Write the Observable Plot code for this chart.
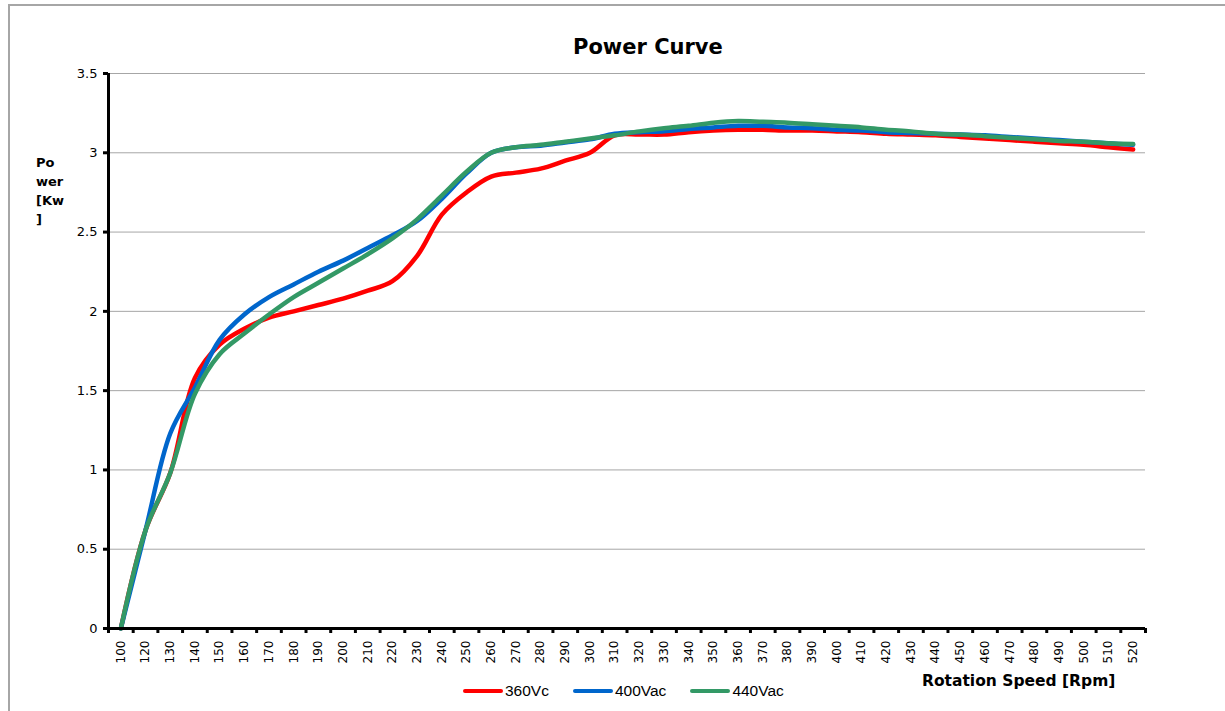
<!DOCTYPE html>
<html>
<head>
<meta charset="utf-8">
<script src="https://cdn.jsdelivr.net/npm/d3@7"></script>
<script src="https://cdn.jsdelivr.net/npm/@observablehq/plot@0.6"></script>
<style>
  html, body { margin: 0; padding: 0; background: #fff; }
  #wrap { position: relative; width: 1225px; height: 711px; overflow: hidden; font-family: "DejaVu Sans", sans-serif; color: #000; }
  #border { position: absolute; left: 8px; top: 4px; width: 1400px; height: 900px; border-left: 2px solid #a6a6a6; border-top: 2px solid #a6a6a6; box-sizing: border-box; }
  #chart { position: absolute; left: 0; top: 0; }
  .abs { position: absolute; white-space: nowrap; line-height: 1; }
  #title { left: 573px; top: 37px; font-size: 21px; font-weight: bold; }
  #ytitle { left: 36px; top: 153px; font-size: 13px; font-weight: bold; line-height: 19px; white-space: normal; }
  #xtitle { left: 922px; top: 674px; font-size: 15.5px; font-weight: bold; }
  #legend { left: 463px; top: 683px; display: flex; align-items: center; font-family: "Liberation Sans", Arial, sans-serif; font-size: 15.5px; }
  .item { display: flex; align-items: center; margin-right: 24px; }
  .sw { width: 40px; height: 4px; border-radius: 2px; margin-right: 2px; }
</style>
</head>
<body>
<div id="wrap">
  <div id="border"></div>
  <div id="chart"></div>
  <div id="title" class="abs">Power Curve</div>
  <div id="ytitle" class="abs">Po<br>wer<br>[Kw<br>]</div>
  <div id="xtitle" class="abs">Rotation Speed [Rpm]</div>
  <div id="legend" class="abs"></div>
</div>
<script>
// Categories (rotation speed, rpm) — note: 110 is not present in the source chart
const rpm = [100,120,130,140,150,160,170,180,190,200,210,220,230,240,250,260,270,280,290,300,
             310,320,330,340,350,360,370,380,390,400,410,420,430,440,450,460,470,480,490,500,510,520];

// Power [kW] per series
const p360 = [0,0.62,0.98,1.58,1.79,1.89,1.96,2.00,2.04,2.08,2.13,2.19,2.35,2.61,2.75,2.85,2.875,2.90,2.95,3.00,
              3.11,3.115,3.115,3.13,3.14,3.145,3.145,3.14,3.14,3.135,3.13,3.12,3.115,3.11,3.10,3.09,3.08,3.07,3.06,3.05,3.035,3.02];
const p400 = [0,0.62,1.23,1.52,1.82,1.98,2.09,2.17,2.25,2.32,2.40,2.48,2.57,2.71,2.87,3.00,3.035,3.045,3.065,3.085,
              3.12,3.13,3.135,3.15,3.16,3.17,3.17,3.16,3.155,3.145,3.14,3.13,3.125,3.12,3.115,3.11,3.10,3.09,3.08,3.07,3.06,3.05];
const p440 = [0,0.62,0.98,1.48,1.73,1.86,1.98,2.09,2.18,2.27,2.36,2.46,2.58,2.73,2.88,3.00,3.035,3.05,3.07,3.09,
              3.11,3.135,3.155,3.17,3.19,3.20,3.195,3.19,3.18,3.17,3.16,3.145,3.135,3.12,3.115,3.105,3.095,3.085,3.075,3.07,3.06,3.055];

const seriesNames = ["360Vc", "400Vac", "440Vac"];
const seriesColors = ["#ff0000", "#0066cc", "#339966"];
const yTicks = [0, 0.5, 1, 1.5, 2, 2.5, 3, 3.5];

const seriesValues = [p360, p400, p440];
const rows = seriesNames.flatMap((s, k) => rpm.map((r, i) => ({rpm: r, power: seriesValues[k][i], series: s})));

const W = 1225, H = 711, mL = 108, mR = 80, mT = 73, mB = 83;
const half = (W - mL - mR) / rpm.length / 2;

const chart = Plot.plot({
  width: W, height: H,
  marginLeft: mL, marginRight: mR, marginTop: mT, marginBottom: mB,
  style: {background: "transparent", fontFamily: "DejaVu Sans, sans-serif", fontSize: "12px", color: "#000", overflow: "visible"},
  x: {type: "point", domain: rpm, padding: 0.5, round: false, label: null},
  y: {domain: [0, 3.5], label: null},
  color: {domain: seriesNames, range: seriesColors},
  marks: [
    Plot.gridY(yTicks, {stroke: "#a6a6a6", strokeOpacity: 1, strokeWidth: 1}),
    Plot.line(rows, {x: "rpm", y: "power", z: "series", stroke: "series", strokeWidth: 4.5, curve: "catmull-rom", strokeLinecap: "round"}),
    Plot.ruleY([0], {stroke: "#000", strokeWidth: 3}),
    Plot.ruleX([rpm[0]], {dx: -half, y1: 0, y2: 3.5, stroke: "#000", strokeWidth: 3}),
    Plot.axisY({ticks: yTicks, tickSize: 5, tickPadding: 6, strokeWidth: 3, fontSize: 13, tickFormat: d => String(d), label: null}),
    Plot.axisX({ticks: rpm, tickSize: 5, dx: -half, strokeWidth: 3, tickFormat: () => "", label: null}),
    Plot.axisX({ticks: [rpm[rpm.length - 1]], tickSize: 5, dx: half, strokeWidth: 3, tickFormat: () => "", label: null}),
    Plot.axisX({ticks: rpm, tickSize: 0, tickRotate: -90, tickPadding: 12, fontSize: 12, label: null})
  ]
});
document.getElementById("chart").appendChild(chart);

const legend = document.getElementById("legend");
seriesNames.forEach((s, k) => {
  const item = document.createElement("div");
  item.className = "item";
  const sw = document.createElement("div");
  sw.className = "sw";
  sw.style.background = seriesColors[k];
  const t = document.createElement("span");
  t.textContent = s;
  item.appendChild(sw);
  item.appendChild(t);
  legend.appendChild(item);
});
</script>
</body>
</html>
